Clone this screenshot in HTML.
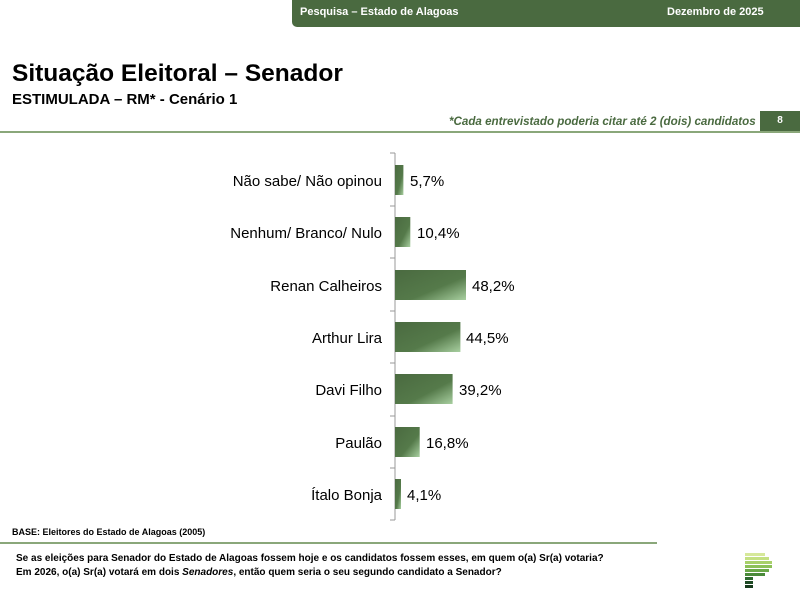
<!DOCTYPE html>
<html><head><meta charset="utf-8"><style>
body{margin:0;width:800px;height:600px;background:#fff;position:relative;overflow:hidden;font-family:"Liberation Sans",sans-serif}
.a{position:absolute;white-space:nowrap}
</style></head><body>
<div class="a" style="left:292px;top:0;width:508px;height:27px;background:#4a6a40;border-bottom-left-radius:5px"></div>
<div class="a" style="left:300px;top:6px;font-size:11px;font-weight:bold;color:#fff">Pesquisa – Estado de Alagoas</div>
<div class="a" style="left:667px;top:6px;font-size:11px;font-weight:bold;color:#fff">Dezembro de 2025</div>
<div class="a" style="left:12px;top:60px;font-size:24.5px;font-weight:bold;color:#000">Situação Eleitoral – Senador</div>
<div class="a" style="left:12px;top:91px;font-size:15px;font-weight:bold;color:#000">ESTIMULADA – RM* - Cenário 1</div>
<div class="a" style="left:449px;top:115px;font-size:11.6px;font-weight:bold;font-style:italic;color:#4a6a40">*Cada entrevistado poderia citar até 2 (dois) candidatos</div>
<div class="a" style="left:760px;top:111px;width:40px;height:20px;background:#4a6a40;color:#fff;font-size:10px;font-weight:bold;text-align:center;line-height:20px">8</div>
<div class="a" style="left:0;top:131px;width:800px;height:2px;background:#8aa77a"></div>
<svg class="a" style="left:0;top:0" width="800" height="600">
<defs><linearGradient id="g" x1="0" y1="0" x2="1" y2="1"><stop offset="0" stop-color="#4a6a40"/><stop offset="0.6" stop-color="#557a4a"/><stop offset="1" stop-color="#a8cfa0"/></linearGradient></defs>
<line x1="395" y1="153" x2="395" y2="520" stroke="#999"/>
<g stroke="#999"><line x1="390" y1="153" x2="395" y2="153"/><line x1="390" y1="206" x2="395" y2="206"/><line x1="390" y1="258" x2="395" y2="258"/><line x1="390" y1="311" x2="395" y2="311"/><line x1="390" y1="363" x2="395" y2="363"/><line x1="390" y1="416" x2="395" y2="416"/><line x1="390" y1="468" x2="395" y2="468"/><line x1="390" y1="520" x2="395" y2="520"/></g>
<g fill="url(#g)">
<rect x="395" y="165" width="8.4" height="30"/>
<rect x="395" y="217" width="15.3" height="30"/>
<rect x="395" y="270" width="71" height="30"/>
<rect x="395" y="322" width="65.4" height="30"/>
<rect x="395" y="374" width="57.6" height="30"/>
<rect x="395" y="427" width="24.7" height="30"/>
<rect x="395" y="479" width="6" height="30"/>
</g>
<g font-family="Liberation Sans,sans-serif" font-size="15" fill="#000">
<g text-anchor="end"><text x="382" y="186">Não sabe/ Não opinou</text><text x="382" y="238">Nenhum/ Branco/ Nulo</text><text x="382" y="291">Renan Calheiros</text><text x="382" y="343">Arthur Lira</text><text x="382" y="395">Davi Filho</text><text x="382" y="448">Paulão</text><text x="382" y="500">Ítalo Bonja</text></g>
<text x="410" y="186">5,7%</text><text x="417" y="238">10,4%</text><text x="472" y="291">48,2%</text><text x="466" y="343">44,5%</text><text x="459" y="395">39,2%</text><text x="426" y="448">16,8%</text><text x="407" y="500">4,1%</text>
</g>
<g>
<rect x="745" y="553" width="20" height="3" fill="#d6e89a"/><rect x="745" y="557" width="24" height="3" fill="#c4e082"/><rect x="745" y="561" width="27" height="3" fill="#a8d06a"/><rect x="745" y="565" width="27" height="3" fill="#8cc058"/><rect x="745" y="569" width="24" height="3" fill="#6aa848"/><rect x="745" y="573" width="20" height="3" fill="#4a8a3a"/><rect x="745" y="577" width="8" height="3" fill="#2e6a2e"/><rect x="745" y="581" width="8" height="3" fill="#1e4a24"/><rect x="745" y="585" width="8" height="3" fill="#163a1c"/>
</g>
</svg>
<div class="a" style="left:12px;top:527px;font-size:9px;font-weight:bold;color:#000">BASE: Eleitores do Estado de Alagoas (2005)</div>
<div class="a" style="left:0;top:542px;width:657px;height:2px;background:#8aa77a"></div>
<div class="a" style="left:16px;top:552px;font-size:10px;font-weight:bold;color:#000;line-height:14px">Se as eleições para Senador do Estado de Alagoas fossem hoje e os candidatos fossem esses, em quem o(a) Sr(a) votaria?<br>Em 2026, o(a) Sr(a) votará em dois <i>Senadores</i>, então quem seria o seu segundo candidato a Senador?</div>
</body></html>
